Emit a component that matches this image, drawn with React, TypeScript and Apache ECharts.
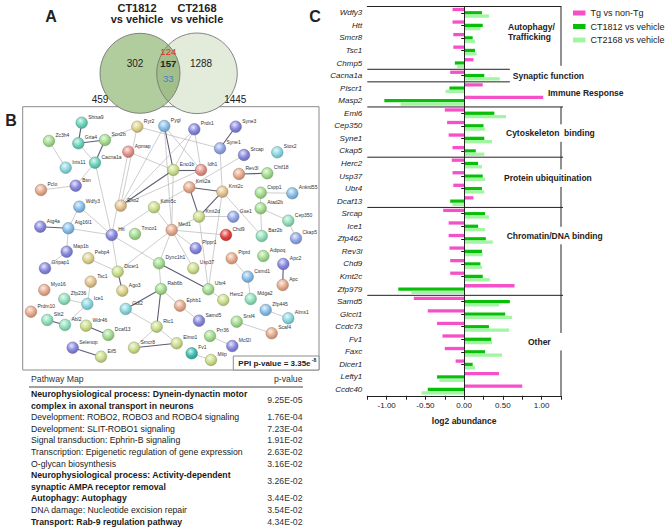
import React, { useEffect, useRef } from 'react';
import * as echarts from 'echarts';

const FONT = '"Liberation Sans", Arial, Helvetica, sans-serif';

// ---------------- Panel A: Venn ----------------
const vennSetTitles = [['CT1812', 'vs vehicle'], ['CT2168', 'vs vehicle']];
const vennUnique = [302, 1288];
const vennShared = [124, 157, 33]; // red, black, blue
const vennTotals = [459, 1445];

// ---------------- Panel B: pathway table ----------------
const pathwayLines = [
  ['Neurophysiological process: Dynein-dynactin motor', 'complex in axonal transport in neurons'],
  ['Development: ROBO2, ROBO3 and ROBO4 signaling'],
  ['Development: SLIT-ROBO1 signaling'],
  ['Signal transduction: Ephrin-B signaling'],
  ['Transcription: Epigenetic regulation of gene expression'],
  ['O-glycan biosynthesis'],
  ['Neurophysiological process: Activity-dependent', 'synaptic AMPA receptor removal'],
  ['Autophagy: Autophagy'],
  ['DNA damage: Nucleotide excision repair'],
  ['Transport: Rab-9 regulation pathway'],
];
const pathwayPValues = ['9.25E-05', '1.76E-04', '7.23E-04', '1.91E-02', '2.63E-02', '3.16E-02', '3.26E-02', '3.44E-02', '3.54E-02', '4.34E-02'];
const pathwayBold = [true, false, false, false, false, false, true, true, false, true];

// ---------------- Panel B: network (layout) ----------------
const networkNodes: [string, number, number, string][] = [
  ['Shisa9', 59.0, 16.0, 'teal'], ['Zc3h4', 26.3, 34.3, 'green'], ['Gria4', 55.6, 36.6, 'teal'],
  ['Scn2b', 82.3, 33.3, 'green'], ['Ryr2', 114.6, 20.0, 'khaki'], ['Pygl', 141.6, 19.3, 'blue'],
  ['Prdx1', 171.6, 22.6, 'purple'], ['Syne3', 213.0, 20.0, 'purple'], ['Syne1', 197.3, 41.6, 'peri'],
  ['Srcap', 221.3, 48.3, 'purple'], ['Stox2', 254.6, 45.6, 'cyan'], ['Apmap', 105.6, 45.0, 'salmon'],
  ['Cacna1a', 72.3, 56.0, 'teal'], ['Ints11', 43.0, 61.0, 'cyan'], ['Eno1b', 150.6, 63.3, 'lime'],
  ['Idh1', 178.3, 63.3, 'salmon'], ['Rev3l', 216.3, 67.3, 'peach'], ['Chtf18', 244.6, 66.6, 'green'],
  ['Pclo', 18.3, 83.3, 'peach'], ['Bsn', 53.0, 79.0, 'purple'], ['Kmt2a', 166.6, 80.6, 'peach'],
  ['Kmt2c', 199.6, 85.0, 'tan'], ['Cspp1', 238.0, 86.0, 'green'], ['Ankrd55', 269.6, 86.6, 'blue'],
  ['Wdfy3', 56.6, 100.0, 'blue'], ['Eno2', 98.0, 99.0, 'tan'], ['Kdm5c', 131.3, 100.6, 'lime'],
  ['Kmt2d', 176.3, 110.0, 'lime'], ['Gse1', 210.6, 110.0, 'peri'], ['Atad2b', 238.0, 101.6, 'green'],
  ['Cep350', 265.6, 114.0, 'mint'], ['Atg4a', 17.6, 120.0, 'purple'], ['Atg16l1', 45.6, 121.6, 'blue'],
  ['Htt', 89.0, 128.3, 'purple'], ['Tmco1', 112.3, 127.3, 'green'], ['Med1', 149.0, 123.3, 'peach'],
  ['Chd9', 203.3, 128.3, 'red'], ['Baz2b', 239.0, 129.3, 'mint'], ['Ckap5', 273.3, 131.6, 'peri'],
  ['Map1b', 44.0, 145.0, 'purple'], ['Pebp4', 65.6, 151.6, 'khaki'], ['Plppr1', 173.0, 141.6, 'purple'],
  ['Ptprd', 209.0, 151.6, 'peach'], ['Adipoq', 240.6, 149.3, 'green'], ['Apc2', 260.6, 157.3, 'purple'],
  ['Gripap1', 22.3, 161.6, 'purple'], ['Dicer1', 95.0, 165.0, 'lime'], ['Dync1h1', 136.3, 156.6, 'green'],
  ['Usp37', 170.6, 161.6, 'lime'], ['Csmd1', 225.0, 170.0, 'blue'], ['Apc', 260.0, 178.3, 'peach'],
  ['Tsc1', 68.0, 175.0, 'tan'], ['Myo16', 21.6, 183.3, 'peach'], ['Ago3', 99.6, 184.0, 'khaki'],
  ['Rab6b', 138.3, 182.3, 'green'], ['Ubr4', 185.6, 182.6, 'green'], ['Zfp236', 41.6, 192.3, 'mint'],
  ['Ice1', 64.6, 197.3, 'cyan'], ['Herc2', 200.6, 193.3, 'lime'], ['Mdga2', 228.0, 192.3, 'mint'],
  ['Gdi2', 103.0, 202.3, 'cyan'], ['Ephb1', 157.3, 199.0, 'peach'], ['Zfp445', 243.0, 203.3, 'blue'],
  ['Prdm10', 8.3, 205.0, 'peach'], ['Slit2', 24.6, 213.3, 'mint'], ['Abl2', 42.3, 218.3, 'mint'],
  ['Wdr46', 63.3, 219.0, 'lime'], ['Ric1', 134.0, 220.0, 'lime'], ['Samd5', 176.3, 214.0, 'purple'],
  ['Srsf4', 214.0, 215.0, 'green'], ['Alms1', 265.6, 211.6, 'cyan'], ['Dcaf13', 85.6, 228.3, 'green'],
  ['Scaf4', 249.0, 226.6, 'peach'], ['Prr36', 187.3, 229.3, 'green'], ['Elmo1', 154.0, 236.6, 'lime'],
  ['Mcf2l', 209.6, 239.3, 'purple'], ['Smcr8', 111.3, 241.0, 'lime'], ['Selenop', 50.0, 241.0, 'purple'],
  ['Eif5', 78.3, 250.0, 'lime'], ['Fv1', 169.0, 246.6, 'dteal'], ['Miip', 188.3, 253.3, 'lime'],
];
const networkEdges: [string, string, number][] = [
  ['Shisa9', 'Gria4', 1], ['Gria4', 'Scn2b', 1], ['Gria4', 'Cacna1a', 0], ['Scn2b', 'Cacna1a', 1],
  ['Zc3h4', 'Ints11', 0], ['Cacna1a', 'Bsn', 0], ['Cacna1a', 'Htt', 0], ['Scn2b', 'Ryr2', 0],
  ['Ryr2', 'Syne1', 0], ['Ryr2', 'Eno2', 0], ['Pygl', 'Eno2', 0], ['Pygl', 'Eno1b', 1],
  ['Pygl', 'Idh1', 0], ['Pygl', 'Med1', 0], ['Prdx1', 'Eno1b', 0], ['Prdx1', 'Idh1', 0],
  ['Prdx1', 'Eno2', 0], ['Apmap', 'Eno1b', 0], ['Apmap', 'Htt', 0], ['Eno1b', 'Idh1', 1],
  ['Eno1b', 'Eno2', 1], ['Eno2', 'Idh1', 0], ['Eno1b', 'Med1', 0], ['Pclo', 'Bsn', 0],
  ['Wdfy3', 'Atg16l1', 0], ['Wdfy3', 'Htt', 0], ['Atg4a', 'Atg16l1', 1], ['Atg16l1', 'Htt', 0],
  ['Htt', 'Kdm5c', 0], ['Kdm5c', 'Kmt2a', 0], ['Kdm5c', 'Med1', 0], ['Med1', 'Kmt2d', 0],
  ['Syne3', 'Syne1', 1], ['Syne1', 'Kmt2c', 0], ['Srcap', 'Kmt2a', 0], ['Rev3l', 'Chtf18', 1],
  ['Kmt2a', 'Kmt2c', 1], ['Kmt2a', 'Kmt2d', 1], ['Kmt2c', 'Kmt2d', 1], ['Kmt2d', 'Gse1', 0],
  ['Kmt2c', 'Baz2b', 0], ['Kmt2c', 'Ubr4', 0], ['Kmt2d', 'Ubr4', 0], ['Cspp1', 'Ankrd55', 0],
  ['Cspp1', 'Atad2b', 0], ['Atad2b', 'Cep350', 0], ['Atad2b', 'Baz2b', 0], ['Cep350', 'Ckap5', 0],
  ['Med1', 'Chd9', 0], ['Atg16l1', 'Map1b', 0], ['Map1b', 'Gripap1', 0], ['Htt', 'Dicer1', 0],
  ['Htt', 'Dync1h1', 0], ['Pebp4', 'Dicer1', 0], ['Dicer1', 'Ago3', 1], ['Dicer1', 'Med1', 0],
  ['Dync1h1', 'Rab6b', 0], ['Dync1h1', 'Med1', 0], ['Dync1h1', 'Ubr4', 1], ['Rab6b', 'Gdi2', 1],
  ['Rab6b', 'Ric1', 1], ['Rab6b', 'Ephb1', 0], ['Gdi2', 'Ric1', 0], ['Ric1', 'Smcr8', 0],
  ['Ric1', 'Elmo1', 0], ['Smcr8', 'Elmo1', 1], ['Ephb1', 'Samd5', 0], ['Ubr4', 'Herc2', 0],
  ['Usp37', 'Med1', 0], ['Plppr1', 'Med1', 0], ['Ptprd', 'Csmd1', 0], ['Csmd1', 'Mdga2', 0],
  ['Apc2', 'Apc', 1], ['Tsc1', 'Ice1', 0], ['Ice1', 'Zfp236', 0], ['Ice1', 'Abl2', 0],
  ['Slit2', 'Abl2', 1], ['Wdr46', 'Dcaf13', 1], ['Selenop', 'Eif5', 1], ['Fv1', 'Miip', 0],
  ['Zfp445', 'Alms1', 0], ['Srsf4', 'Scaf4', 0], ['Prr36', 'Mcf2l', 0],
];
const ppiPValueText = 'PPI p-value = 3.35e';
const ppiPValueExp = '-8';

// ---------------- Panel C: bars ----------------
const genes = ['Wdfy3', 'Htt', 'Smcr8', 'Tsc1', 'Chmp5', 'Cacna1a', 'Plscr1', 'Masp2', 'Eml6', 'Cep350', 'Syne1', 'Ckap5', 'Herc2', 'Usp37', 'Ubr4', 'Dcaf13', 'Srcap', 'Ice1', 'Zfp462', 'Rev3l', 'Chd9', 'Kmt2c', 'Zfp979', 'Samd5', 'Glcci1', 'Ccdc73', 'Fv1', 'Faxc', 'Dicer1', 'Lefty1', 'Ccdc40'];
const tgVsNonTg = [-0.15, -0.15, -0.14, -0.14, 0.12, -0.18, 0.24, 1.02, -0.25, -0.22, -0.20, -0.15, -0.16, -0.15, -0.14, 0.12, -0.27, -0.20, -0.20, -0.19, -0.18, -0.18, 0.65, -0.65, -0.47, -0.35, -0.28, -0.25, -0.11, 0.45, 0.75];
const ct1812VsVehicle = [0.23, 0.24, 0.11, 0.14, -0.12, 0.26, -0.19, -1.03, 0.39, 0.25, 0.26, 0.15, 0.18, 0.24, 0.23, -0.18, 0.27, 0.18, 0.28, 0.23, 0.21, 0.24, -0.85, 0.59, 0.53, 0.32, 0.35, 0.27, 0.11, -0.35, -0.47];
const ct2168VsVehicle = [0.32, 0.21, 0.14, 0.16, -0.09, 0.46, -0.24, -0.82, 0.54, 0.27, 0.36, 0.26, 0.23, 0.27, 0.26, -0.15, 0.32, 0.27, 0.37, 0.24, 0.23, 0.33, -0.68, 0.45, 0.62, 0.58, 0.36, 0.49, 0.14, -0.32, -0.55];
const seriesNames = ['Tg vs non-Tg', 'CT1812 vs vehicle', 'CT2168 vs vehicle'];
const groupNames = ['Autophagy/\nTrafficking', 'Synaptic function', 'Immune Response', 'Cytoskeleton  binding', 'Protein ubiquitination', 'Chromatin/DNA binding', 'Other'];
const groupSizes = [5, 1, 2, 4, 4, 7, 8];

// group label layout (style, not data)
const groupLabelX = [0.566, 0.627, 1.082, 0.54, 0.514, 0.549, 0.824];
const groupLabelRow = [2.06, 5.54, 6.92, 10.1, 13.69, 18.26, 26.71];
const groupSepEnd: (number | null)[] = [0.59, 0.59, null, null, null, null, null];
const groupBracketGap = [false, false, false, true, true, true, true];

const PINK = '#f550c8';
const DKGREEN = '#08bf08';
const LTGREEN = '#a2f5a2';

const palette: Record<string, string> = {
  teal: '#69d3b9', green: '#a2dc8e', mint: '#8fdfbb', blue: '#86bde8', purple: '#8787df',
  peri: '#8fa6e6', salmon: '#e49189', peach: '#e6a98b', tan: '#e2c28e', khaki: '#dcd18a',
  lime: '#cbde8a', red: '#e3413f', cyan: '#8ad6df', dteal: '#3cbbb0',
};

function shade(hex: string, f: number) {
  const n = parseInt(hex.slice(1), 16);
  let r = n >> 16, g = (n >> 8) & 255, b = n & 255;
  const t = f < 0 ? 0 : 255;
  const p = Math.abs(f);
  r = Math.round(r + (t - r) * p); g = Math.round(g + (t - g) * p); b = Math.round(b + (t - b) * p);
  return `rgb(${r},${g},${b})`;
}

// Venn geometry (layout)
const V1 = { cx: 140, cy: 73.3, r: 40 };
const V2 = { cx: 197, cy: 73.3, r: 40.3 };
function lensPath() {
  const d = V2.cx - V1.cx;
  const a = (d * d - V2.r * V2.r + V1.r * V1.r) / (2 * d);
  const h = Math.sqrt(V1.r * V1.r - a * a);
  const ix = V1.cx + a;
  const y1 = V1.cy - h, y2 = V1.cy + h;
  return `M ${ix} ${y1} A ${V1.r} ${V1.r} 0 0 1 ${ix} ${y2} A ${V2.r} ${V2.r} 0 0 1 ${ix} ${y1} Z`;
}
echarts.graphic.registerShape('vennLens', echarts.graphic.extendPath(lensPath(), {}) as any);

const NET = { left: 22.7, top: 106.7, width: 296.3, height: 263.3 };

function txt(x: number, y: number, text: string, o: any = {}) {
  return {
    type: 'text', x, y, silent: true, z: o.z ?? 10,
    style: {
      text, fill: o.fill || '#222',
      font: `${o.weight || 'normal'} ${o.size || 9}px ${FONT}`,
      textAlign: o.align || 'left', textVerticalAlign: o.valign || 'middle',
    },
  };
}

function buildGraphic() {
  const g: any[] = [];
  // panel letters
  g.push(txt(51, 16, 'A', { size: 16, weight: 'bold', align: 'center' }));
  g.push(txt(11, 120, 'B', { size: 16, weight: 'bold', align: 'center' }));
  g.push(txt(315, 16, 'C', { size: 16, weight: 'bold', align: 'center' }));
  // Venn
  g.push({ type: 'circle', silent: true, shape: { cx: V1.cx, cy: V1.cy, r: V1.r }, style: { fill: '#b2cd9d' } });
  g.push({ type: 'circle', silent: true, shape: { cx: V2.cx, cy: V2.cy, r: V2.r }, style: { fill: '#e3ecdb' } });
  g.push({ type: 'vennLens', silent: true, style: { fill: '#a1be8b' } });
  g.push({ type: 'circle', silent: true, shape: { cx: V1.cx, cy: V1.cy, r: V1.r }, style: { fill: 'none', stroke: '#6a6a6a', lineWidth: 0.8 } });
  g.push({ type: 'circle', silent: true, shape: { cx: V2.cx, cy: V2.cy, r: V2.r }, style: { fill: 'none', stroke: '#6a6a6a', lineWidth: 0.8 } });
  const titleX = [137, 197];
  vennSetTitles.forEach((t, i) => {
    g.push(txt(titleX[i], 7.5, t[0], { size: 11, weight: 'bold', align: 'center' }));
    g.push(txt(titleX[i], 19, t[1], { size: 11, weight: 'bold', align: 'center' }));
  });
  const uniqX = [135, 201];
  vennUnique.forEach((v, i) => g.push(txt(uniqX[i], 63.5, String(v), { size: 10, align: 'center' })));
  const ix = V1.cx + ((V2.cx - V1.cx) ** 2 - V2.r ** 2 + V1.r ** 2) / (2 * (V2.cx - V1.cx));
  const sharedY = [51.7, 63.8, 78];
  const sharedStyle = [{ fill: '#e62a2a' }, { weight: 'bold' }, { fill: '#4b7fca' }];
  vennShared.forEach((v, i) => g.push(txt(ix, sharedY[i], String(v), { size: 9.5, align: 'center', ...sharedStyle[i] })));
  const totX = [100, 235.3];
  vennTotals.forEach((v, i) => g.push(txt(totX[i], 99.5, String(v), { size: 10, align: 'center' })));

  // PPI box
  g.push({ type: 'rect', silent: true, z: 50, shape: { x: 233.3, y: 356, width: NET.left + NET.width - 233.3, height: NET.top + NET.height - 356 }, style: { fill: '#fff', stroke: '#8a8a8a', lineWidth: 1 } });
  g.push(txt(238.3, 363.3, ppiPValueText, { size: 8, weight: 'bold', z: 51 }));
  g.push(txt(311.8, 360, ppiPValueExp, { size: 5, weight: 'bold', z: 51 }));

  // Pathway table
  g.push(txt(31, 379, 'Pathway Map', { size: 8.7, fill: '#333' }));
  g.push(txt(302.5, 379, 'p-value', { size: 8.7, align: 'right', fill: '#333' }));
  g.push({ type: 'line', silent: true, shape: { x1: 29, y1: 387, x2: 303, y2: 387 }, style: { stroke: '#444', lineWidth: 1 } });
  const pitch = 11.6;
  let line = 0;
  pathwayLines.forEach((lines, i) => {
    const y0 = 394 + line * pitch;
    lines.forEach((t, k) => g.push(txt(31, y0 + k * pitch, t, { size: 8.7, weight: pathwayBold[i] ? 'bold' : 'normal', fill: '#1a1a1a' })));
    const pY = y0 + ((lines.length - 1) * pitch) / 2;
    g.push(txt(302.5, pY, pathwayPValues[i], { size: 8.7, align: 'right', fill: '#333' }));
    line += lines.length;
  });
  return g;
}

function renderGroups(params: any, api: any) {
  const cs = params.coordSys;
  const top = cs.y, bottom = cs.y + cs.height, left = cs.x, right = cs.x + cs.width;
  const band = cs.height / genes.length;
  const xOf = (v: number) => api.coord([v, 0])[0];
  const st = { stroke: '#222', lineWidth: 1 };
  const ln = (x1: number, y1: number, x2: number, y2: number) => ({ type: 'line', shape: { x1, y1, x2, y2 }, style: st });
  const children: any[] = [];
  const sepY: number[] = [];
  let cum = 0;
  groupSizes.forEach((n) => { cum += n; sepY.push(top + cum * band); });
  groupNames.forEach((name, i) => {
    if (i < groupNames.length - 1) {
      const e = groupSepEnd[i];
      children.push(ln(left, sepY[i], e === null ? right + 2 : xOf(e), sepY[i]));
    }
    children.push({
      type: 'text', x: xOf(groupLabelX[i]), y: top + groupLabelRow[i] * band,
      style: { text: name, font: `bold 8.5px ${FONT}`, fill: '#222', textAlign: 'left', textVerticalAlign: 'middle', lineHeight: 10 },
    });
  });
  children.push(ln(right, top, right, sepY[0] - 3.5));
  let y = sepY[2];
  groupNames.forEach((_, i) => {
    if (groupBracketGap[i]) {
      const ly = top + groupLabelRow[i] * band;
      children.push(ln(right, y, right, ly - 9));
      y = ly + 8.5;
    }
  });
  children.push(ln(right, y, right, bottom));
  return { type: 'group', children };
}

function buildOption(): any {
  const nodes = networkNodes.map(([name, x, y, key]) => {
    const c = palette[key];
    return {
      name, value: [x, y],
      itemStyle: {
        color: new echarts.graphic.RadialGradient(0.4, 0.33, 0.72, [
          { offset: 0, color: shade(c, 0.8) },
          { offset: 0.55, color: c },
          { offset: 1, color: shade(c, -0.22) },
        ]),
        borderColor: shade(c, -0.3), borderWidth: 0.5,
      },
    };
  });
  const links = networkEdges.map(([s, t, strong]) => ({
    source: s, target: t,
    lineStyle: strong ? { color: '#5c5c74', width: 1.1, opacity: 1 } : { color: '#b8b8b8', width: 0.7, opacity: 1 },
  }));
  const axisColor = '#222';
  return {
    animation: false,
    textStyle: { fontFamily: FONT },
    grid: [
      { left: 367.3, top: 6.5, width: 193.7, height: 389.3 },
      { left: NET.left, top: NET.top, width: NET.width, height: NET.height, show: true, borderColor: '#8a8a8a', borderWidth: 1, backgroundColor: '#fff' },
    ],
    legend: {
      data: seriesNames, orient: 'vertical', left: 573, top: 8.5, itemWidth: 12.5, itemHeight: 5,
      itemGap: 4.5, icon: 'rect', padding: 0, selectedMode: false,
      textStyle: { fontSize: 9, color: '#222', fontFamily: FONT },
    },
    xAxis: [
      {
        gridIndex: 0, type: 'value', min: -1.25, max: 1.25, interval: 0.25, position: 'bottom',
        axisLine: { show: true, lineStyle: { color: axisColor, width: 1 } },
        axisTick: { show: true, length: 4, lineStyle: { color: axisColor } },
        axisLabel: {
          fontSize: 8, color: '#222', margin: 6,
          formatter: (v: number) => (Math.abs(v * 2 - Math.round(v * 2)) < 1e-6 && Math.abs(v) <= 1.0001 ? v.toFixed(2) : ''),
        },
        splitLine: { show: false },
        name: 'log2 abundance', nameLocation: 'middle', nameGap: 21,
        nameTextStyle: { fontWeight: 'bold', fontSize: 8.5, color: '#222' },
      },
      {
        gridIndex: 0, type: 'value', min: -1.25, max: 1.25, position: 'top',
        axisLine: { show: true, lineStyle: { color: axisColor, width: 1 } },
        axisTick: { show: false }, axisLabel: { show: false }, splitLine: { show: false },
      },
      { gridIndex: 1, type: 'value', min: 0, max: NET.width, show: false },
    ],
    yAxis: [
      {
        gridIndex: 0, type: 'category', data: genes, inverse: true,
        axisLine: { show: true, lineStyle: { color: axisColor, width: 1 } },
        axisTick: { show: true, alignWithLabel: true, length: 3, lineStyle: { color: axisColor } },
        axisLabel: { interval: 0, fontStyle: 'italic', fontSize: 8, color: '#222', margin: 5 },
        splitLine: { show: false },
      },
      { gridIndex: 1, type: 'value', min: 0, max: NET.height, inverse: true, show: false },
    ],
    series: [
      {
        name: seriesNames[0], type: 'bar', xAxisIndex: 0, yAxisIndex: 0, data: tgVsNonTg,
        barWidth: 3.3, barGap: '0%', itemStyle: { color: PINK }, silent: true,
        markLine: {
          silent: true, symbol: 'none', label: { show: false },
          lineStyle: { color: '#222', width: 1, type: 'solid' }, data: [{ xAxis: 0 }],
        },
      },
      { name: seriesNames[1], type: 'bar', xAxisIndex: 0, yAxisIndex: 0, data: ct1812VsVehicle, barWidth: 3.3, barGap: '0%', itemStyle: { color: DKGREEN }, silent: true },
      { name: seriesNames[2], type: 'bar', xAxisIndex: 0, yAxisIndex: 0, data: ct2168VsVehicle, barWidth: 3.3, barGap: '0%', itemStyle: { color: LTGREEN }, silent: true },
      {
        type: 'custom', xAxisIndex: 0, yAxisIndex: 0, data: [[0, 0]], encode: { x: 0, y: 1 },
        renderItem: renderGroups, clip: false, silent: true, z: 5,
      },
      {
        type: 'graph', coordinateSystem: 'cartesian2d', xAxisIndex: 2, yAxisIndex: 1, layout: 'none',
        symbol: 'circle', symbolSize: 11.5, silent: true, z: 3,
        data: nodes, links,
        label: { show: true, position: 'right', distance: 0.5, offset: [0, -6], fontSize: 5, color: '#333', fontFamily: FONT },
        lineStyle: { color: '#b8b8b8', width: 0.7, curveness: 0, opacity: 1 },
        emphasis: { disabled: true },
      },
    ],
    graphic: buildGraphic(),
  };
}

export default function App() {
  const ref = useRef<HTMLDivElement>(null);
  useEffect(() => {
    if (!ref.current) return;
    const chart = echarts.init(ref.current, null, { renderer: 'svg' });
    chart.setOption(buildOption());
    return () => chart.dispose();
  }, []);
  return <div ref={ref} style={{ position: 'absolute', left: 0, top: 0, width: 669, height: 528, background: '#fff' }} />;
}
